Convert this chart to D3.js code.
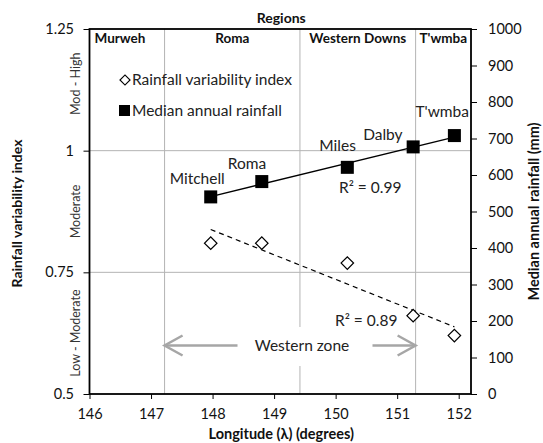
<!DOCTYPE html>
<html lang="en">
<head>
<meta charset="UTF-8">
<title>Rainfall variability and median rainfall</title>
<script src="https://d3js.org/d3.v7.min.js"></script>
<style>
    body { margin: 0; background: #fff; }
    svg text { font-family: Lato, "Open Sans", sans-serif; fill: #111; }
    .tick-label { font-size: 14.5px; }
    .bold { font-weight: bold; }
</style>
</head>
<body>
<svg id="chart" width="543" height="443"></svg>
<script>
// Datos
const towns = ["Mitchell", "Roma", "Miles", "Dalby", "T'wmba"];
const longitude = [147.97, 148.8, 150.19, 151.26, 151.93];
const rainfall = [540, 582, 621, 677, 708];           // mm, eje derecho
const variability = [0.81, 0.81, 0.769, 0.661, 0.62];  // eje izquierdo

const regions = ["Murweh", "Roma", "Western Downs", "T'wmba"];
const regionBounds = [146, 147.22, 149.42, 151.3, 152.2];

const xTicks = [146, 147, 148, 149, 150, 151, 152];
const leftTicks = [0.5, 0.75, 1, 1.25];
const rightTicks = [0, 100, 200, 300, 400, 500, 600, 700, 800, 900, 1000];
const bands = [
    { label: "Mod - High", lo: 1, hi: 1.25 },
    { label: "Moderate", lo: 0.75, hi: 1 },
    { label: "Low - Moderate", lo: 0.5, hi: 0.75 }
];
const r2Labels = ["R\u00B2 = 0.99", "R\u00B2 = 0.89"];

// Dimensiones
const width = 543, height = 443;
const plot = { left: 89.5, right: 471, top: 29, bottom: 394 };
const labelSize = "15.5px";

const svg = d3.select("#chart");

const x = d3.scaleLinear().domain([146, 152.2]).range([plot.left, plot.right]);
const yL = d3.scaleLinear().domain([0.5, 1.25]).range([plot.bottom, plot.top]);
const yR = d3.scaleLinear().domain([0, 1000]).range([plot.bottom, plot.top]);

// Rejilla horizontal
svg.append("g").selectAll("line")
    .data(leftTicks.slice(1, 3))
    .join("line")
    .attr("x1", plot.left).attr("x2", plot.right)
    .attr("y1", d => yL(d)).attr("y2", d => yL(d))
    .attr("stroke", "#b4b4b4").attr("stroke-width", 1);

// Límites de regiones
svg.append("g").selectAll("line")
    .data(regionBounds.slice(1, 4))
    .join("line")
    .attr("x1", d => x(d)).attr("x2", d => x(d))
    .attr("y1", plot.top).attr("y2", plot.bottom)
    .attr("stroke", "#b4b4b4").attr("stroke-width", 1);

// Nombres de regiones
svg.append("g").selectAll("text")
    .data(regions)
    .join("text")
    .attr("class", "bold")
    .attr("x", (d, i) => i === 0 ? x(regionBounds[0]) + 5 : (x(regionBounds[i]) + x(regionBounds[i + 1])) / 2)
    .attr("y", plot.top + 14)
    .attr("text-anchor", (d, i) => i === 0 ? "start" : "middle")
    .style("font-size", "13.5px")
    .text(d => d);

svg.append("text")
    .attr("class", "bold")
    .attr("x", (plot.left + plot.right) / 2 + 1)
    .attr("y", 23)
    .attr("text-anchor", "middle")
    .style("font-size", "14px")
    .text("Regions");

// Bandas del índice
svg.append("g").selectAll("text")
    .data(bands)
    .join("text")
    .attr("transform", (d, i) => `translate(80,${yL((d.lo + d.hi) / 2) - (i === 0 ? 6 : 0)}) rotate(-90)`)
    .attr("text-anchor", "middle")
    .style("font-size", "12.5px")
    .style("fill", "#333")
    .text(d => d.label);

// Ejes
const axisBottom = d3.axisBottom(x).tickValues(xTicks).tickSize(5).tickFormat(d3.format("d"));
svg.append("g")
    .attr("transform", `translate(0,${plot.bottom})`)
    .call(axisBottom)
    .call(g => g.select(".domain").remove())
    .call(g => g.selectAll("line").attr("stroke", "#000"))
    .call(g => g.selectAll("text").attr("class", "tick-label").attr("dy", "1.2em").style("font-family", null));

const axisLeft = d3.axisLeft(yL).tickValues(leftTicks).tickSize(6).tickFormat(d => String(d));
svg.append("g")
    .attr("transform", `translate(${plot.left},0)`)
    .call(axisLeft)
    .call(g => g.select(".domain").remove())
    .call(g => g.selectAll("line").attr("stroke", "#000"))
    .call(g => g.selectAll("text").attr("class", "tick-label").attr("x", -15.5).style("font-family", null));

const axisRight = d3.axisRight(yR).tickValues(rightTicks).tickSize(6).tickFormat(d3.format("d"));
svg.append("g")
    .attr("transform", `translate(${plot.right},0)`)
    .call(axisRight)
    .call(g => g.select(".domain").remove())
    .call(g => g.selectAll("line").attr("stroke", "#000"))
    .call(g => g.selectAll("text").attr("class", "tick-label").attr("x", 17).style("font-family", null));

// Marco
svg.append("rect")
    .attr("x", plot.left).attr("y", plot.top)
    .attr("width", plot.right - plot.left).attr("height", plot.bottom - plot.top)
    .attr("fill", "none").attr("stroke", "#000").attr("stroke-width", 1.8);

// Títulos de ejes
svg.append("text")
    .attr("class", "bold")
    .attr("x", (plot.left + plot.right) / 2 + 1)
    .attr("y", 439)
    .attr("text-anchor", "middle")
    .style("font-size", "14.5px")
    .text("Longitude (\u03BB) (degrees)");

svg.append("text")
    .attr("class", "bold")
    .attr("transform", `translate(22,${(plot.top + plot.bottom) / 2 + 2}) rotate(-90)`)
    .attr("text-anchor", "middle")
    .style("font-size", "14px")
    .text("Rainfall variability index");

svg.append("text")
    .attr("class", "bold")
    .attr("transform", `translate(539,${(plot.top + plot.bottom) / 2}) rotate(-90)`)
    .attr("text-anchor", "middle")
    .style("font-size", "14.5px")
    .text("Median annual rainfall (mm)");

// Zona occidental
const zoneY = 345.5;
svg.append("rect")
    .attr("x", 242).attr("y", 327).attr("width", 124).attr("height", 39)
    .attr("fill", "#fff");
svg.append("text")
    .attr("x", 302).attr("y", zoneY + 5)
    .attr("text-anchor", "middle")
    .style("font-size", labelSize)
    .style("fill", "#222")
    .text("Western zone");

const arrowColor = "#a6a6a6";
const arrows = [
    { from: 237.5, to: x(regionBounds[1]) },
    { from: 372.5, to: x(regionBounds[3]) }
];
arrows.forEach(a => {
    const dir = Math.sign(a.to - a.from);
    svg.append("line")
        .attr("x1", a.from).attr("x2", a.to - dir * 1)
        .attr("y1", zoneY).attr("y2", zoneY)
        .attr("stroke", arrowColor).attr("stroke-width", 2.5);
    svg.append("path")
        .attr("d", `M${a.to - dir * 18},${zoneY - 10} L${a.to},${zoneY} L${a.to - dir * 18},${zoneY + 10}`)
        .attr("fill", "none").attr("stroke", arrowColor).attr("stroke-width", 2.5);
});

// Regresión lineal
function fit(xs, ys) {
    const mx = d3.mean(xs), my = d3.mean(ys);
    const sxy = d3.sum(xs, (v, i) => (v - mx) * (ys[i] - my));
    const sxx = d3.sum(xs, v => (v - mx) * (v - mx));
    const b = sxy / sxx;
    return v => my + b * (v - mx);
}

const xMin = d3.min(longitude), xMax = d3.max(longitude);
const fR = fit(longitude, rainfall);
const fV = fit(longitude, variability);

svg.append("line")
    .attr("x1", x(xMin)).attr("y1", yR(fR(xMin)))
    .attr("x2", x(xMax)).attr("y2", yR(fR(xMax)))
    .attr("stroke", "#000").attr("stroke-width", 1.4);

svg.append("line")
    .attr("x1", x(xMin)).attr("y1", yL(fV(xMin)))
    .attr("x2", x(xMax)).attr("y2", yL(fV(xMax)))
    .attr("stroke", "#000").attr("stroke-width", 1.2)
    .attr("stroke-dasharray", "5,4");

// Puntos: rombos
const diamond = d3.symbol().type(d3.symbolSquare).size(78);
svg.append("g").selectAll("path")
    .data(longitude)
    .join("path")
    .attr("d", diamond)
    .attr("transform", (d, i) => `translate(${x(d)},${yL(variability[i])}) rotate(45)`)
    .attr("fill", "#fff").attr("stroke", "#000").attr("stroke-width", 1.2);

// Puntos: cuadrados
const sq = 13;
svg.append("g").selectAll("rect")
    .data(longitude)
    .join("rect")
    .attr("x", d => x(d) - sq / 2)
    .attr("y", (d, i) => yR(rainfall[i]) - sq / 2)
    .attr("width", sq).attr("height", sq)
    .attr("fill", "#000");

// Etiquetas de localidades
const labelOffsets = [[-41, -13], [-34, -13], [-28, -16], [-50, -7], [-39, -19]];
svg.append("g").selectAll("text")
    .data(towns)
    .join("text")
    .attr("x", (d, i) => x(longitude[i]) + labelOffsets[i][0])
    .attr("y", (d, i) => yR(rainfall[i]) + labelOffsets[i][1])
    .style("font-size", labelSize)
    .style("fill", "#222")
    .text(d => d);

// R²
svg.append("text")
    .attr("x", 339).attr("y", 193)
    .style("font-size", labelSize).style("fill", "#222")
    .text(r2Labels[0]);
svg.append("text")
    .attr("x", 335).attr("y", 326)
    .style("font-size", labelSize).style("fill", "#222")
    .text(r2Labels[1]);

// Leyenda
const legend = svg.append("g");
legend.append("path")
    .attr("d", d3.symbol().type(d3.symbolSquare).size(50))
    .attr("transform", "translate(125,80) rotate(45)")
    .attr("fill", "#fff").attr("stroke", "#000").attr("stroke-width", 1.2);
legend.append("text")
    .attr("x", 132).attr("y", 85)
    .style("font-size", labelSize).style("fill", "#222")
    .text("Rainfall variability index");
legend.append("rect")
    .attr("x", 119).attr("y", 105).attr("width", 11).attr("height", 11)
    .attr("fill", "#000");
legend.append("text")
    .attr("x", 132).attr("y", 115.5)
    .style("font-size", labelSize).style("fill", "#222")
    .text("Median annual rainfall");
</script>
</body>
</html>
